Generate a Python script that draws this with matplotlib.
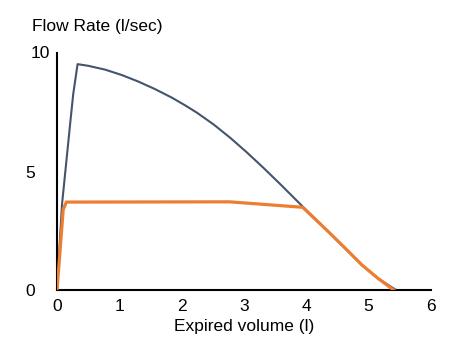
import matplotlib
matplotlib.use("Agg")
import matplotlib.pyplot as plt
from matplotlib.transforms import ScaledTranslation

plt.rcParams['font.family'] = ['Liberation Sans', 'DejaVu Sans']

# curva normal (azul) y curva obstruida (naranja)
normal_vol = [0, 0.08, 0.21, 0.26, 0.33, 0.50, 0.77, 1.04, 1.30, 1.57, 1.84, 2.05, 2.24, 2.51,
              2.78, 3.04, 3.31, 3.58, 3.95, 4.35, 4.62, 4.89, 5.15, 5.44]
normal_flow = [0, 3.6, 6.99, 8.26, 9.53, 9.46, 9.30, 9.07, 8.80, 8.48, 8.12, 7.80, 7.49, 6.99,
               6.42, 5.82, 5.16, 4.47, 3.50, 2.47, 1.77, 1.06, 0.49, 0]

obstr_vol = [0, 0.1, 0.15, 2.77, 3.94, 4.35, 4.62, 4.89, 5.15, 5.40]
obstr_flow = [0, 3.4, 3.71, 3.72, 3.49, 2.47, 1.77, 1.06, 0.49, 0]

xticks = [0, 1, 2, 3, 4, 5, 6]
yticks = [0, 5, 10]

fig = plt.figure(figsize=(4.62, 3.57), dpi=100)
ax = fig.add_axes([57 / 462, 67 / 357, 374 / 462, 237 / 357])

ax.plot(normal_vol, normal_flow, color='#44546A', linewidth=1.5, zorder=2)
ax.plot(obstr_vol, obstr_flow, color='#ED7D31', linewidth=2.3, zorder=3)

ax.set_xlim(0, 6)
ax.set_ylim(0, 10)
ax.set_xticks(xticks)
ax.set_yticks(yticks)
ax.tick_params(axis='both', length=0, labelsize=12.5)
ax.tick_params(axis='x', pad=6.5)
ax.tick_params(axis='y', pad=16)
# pequenas marcas en el origen
ax.set_xticks([0], minor=True)
ax.set_yticks([0], minor=True)
ax.tick_params(which='minor', length=5, width=1.5)

for s in ['top', 'right']:
    ax.spines[s].set_visible(False)
for s in ['left', 'bottom']:
    ax.spines[s].set_linewidth(1.5)

# la etiqueta "10" esta desplazada a la derecha
lab10 = ax.get_yticklabels()[-1]
lab10.set_transform(lab10.get_transform() + ScaledTranslation(0.15, 0.015, fig.dpi_scale_trans))

fig.text(32 / 462, 1 - 27 / 357, 'Flow Rate (l/sec)', fontsize=12.5, va='center', ha='left')
fig.text(244 / 462, 1 - 326 / 357, 'Expired volume (l)', fontsize=12.5, va='center', ha='center')

fig.savefig('out.png', dpi=100)
